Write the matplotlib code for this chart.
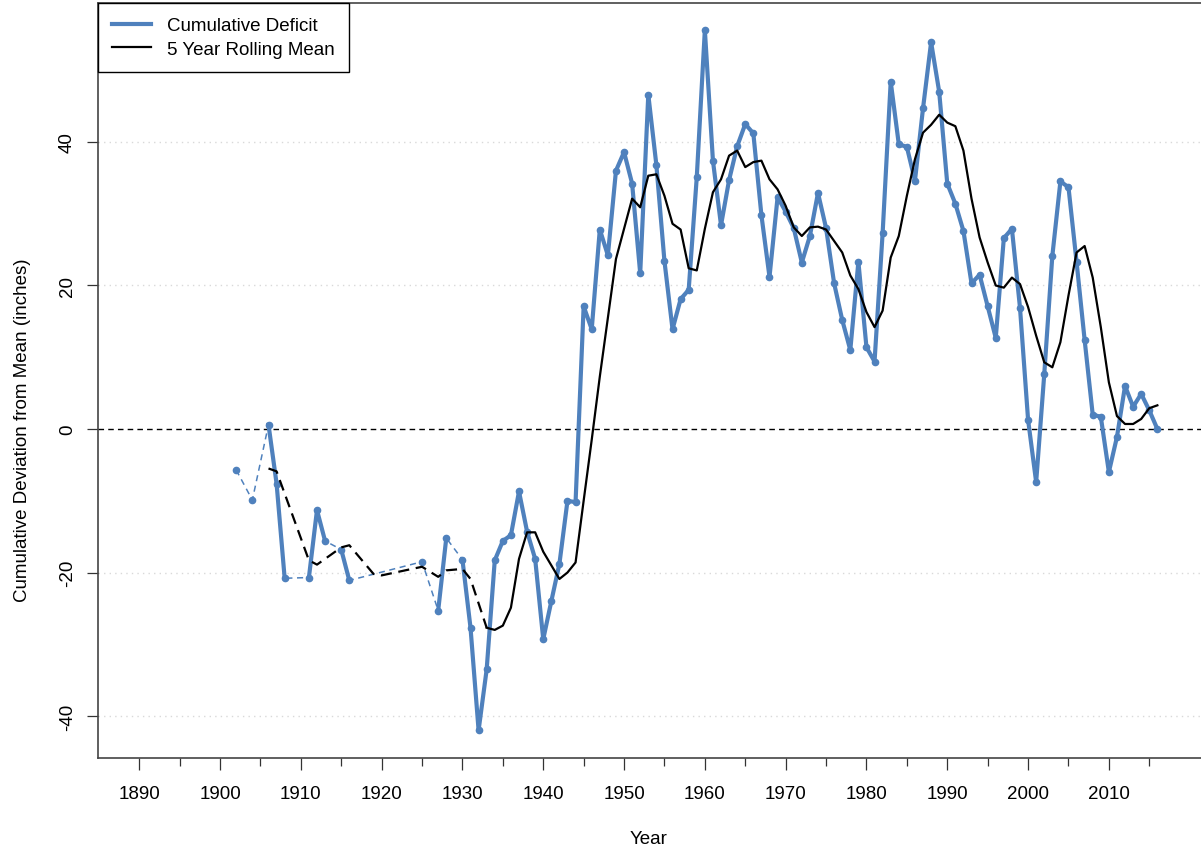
import numpy as np
import matplotlib.pyplot as plt
from matplotlib.lines import Line2D

plt.rcParams['font.family'] = ['Liberation Sans', 'DejaVu Sans']
plt.rcParams['font.size'] = 13.5
plt.rcParams['axes.unicode_minus'] = False

# cumulative deficit (inches), years with a record only
deficit_years = [1902, 1904, 1906, 1907, 1908, 1911, 1912, 1913, 1915, 1916,
                 1925, 1927, 1928, 1930, 1931, 1932, 1933, 1934, 1935, 1936,
                 1937, 1938, 1939, 1940, 1941, 1942, 1943, 1944, 1945, 1946,
                 1947, 1948, 1949, 1950, 1951, 1952, 1953, 1954, 1955, 1956,
                 1957, 1958, 1959, 1960, 1961, 1962, 1963, 1964, 1965, 1966,
                 1967, 1968, 1969, 1970, 1971, 1972, 1973, 1974, 1975, 1976,
                 1977, 1978, 1979, 1980, 1981, 1982, 1983, 1984, 1985, 1986,
                 1987, 1988, 1989, 1990, 1991, 1992, 1993, 1994, 1995, 1996,
                 1997, 1998, 1999, 2000, 2001, 2002, 2003, 2004, 2005, 2006,
                 2007, 2008, 2009, 2010, 2011, 2012, 2013, 2014, 2015, 2016]
deficit = [-5.7, -9.9, 0.6, -7.6, -20.8, -20.7, -11.3, -15.6, -16.8, -21.1,
           -18.5, -25.3, -15.2, -18.2, -27.7, -42.0, -33.5, -18.3, -15.6, -14.8,
           -8.7, -14.3, -18.1, -29.3, -24.0, -18.8, -10.0, -10.2, 17.1, 13.9,
           27.8, 24.2, 36.0, 38.6, 34.2, 21.7, 46.6, 36.8, 23.4, 13.9,
           18.1, 19.4, 35.1, 55.6, 37.4, 28.4, 34.7, 39.4, 42.5, 41.2,
           29.8, 21.2, 32.3, 30.3, 28.0, 23.2, 26.9, 32.9, 28.0, 20.3,
           15.2, 11.0, 23.3, 11.4, 9.4, 27.3, 48.4, 39.7, 39.3, 34.6,
           44.7, 53.9, 47.0, 34.2, 31.4, 27.6, 20.3, 21.5, 17.1, 12.7,
           26.6, 27.9, 16.9, 1.3, -7.4, 7.6, 24.1, 34.5, 33.7, 23.3,
           12.4, 2.0, 1.7, -6.0, -1.1, 6.0, 3.1, 4.9, 2.6, 0.0]

# 5 year rolling mean, patchy part (drawn dashed) then continuous part
roll_gap_years = [1906, 1907, 1911, 1912, 1915, 1916, 1919, 1920, 1925, 1927,
                  1928, 1930, 1931, 1933]
roll_gap = [-5.5, -5.9, -18.3, -18.9, -16.5, -16.2, -20.2, -20.4, -19.2, -20.6,
            -19.7, -19.5, -20.9, -27.7]
roll_years = list(range(1933, 2017))
roll = [-27.7, -28.0, -27.4, -24.9, -18.1, -14.4, -14.4, -17.1, -19.0, -20.9,
        -20.0, -18.6, -10.0, -1.5, 7.3, 15.5, 23.7, 27.9, 32.1, 30.9,
        35.3, 35.5, 32.5, 28.6, 27.8, 22.4, 22.1, 27.9, 33.0, 34.8,
        38.1, 38.8, 36.5, 37.2, 37.4, 34.8, 33.4, 31.1, 28.1, 26.9,
        28.1, 28.2, 27.8, 26.2, 24.6, 21.4, 19.5, 16.3, 14.2, 16.5,
        23.9, 26.9, 32.5, 37.6, 41.3, 42.4, 43.8, 42.7, 42.2, 38.8,
        32.1, 26.7, 23.2, 20.0, 19.7, 21.1, 20.2, 17.0, 13.0, 9.3,
        8.6, 12.1, 18.6, 24.6, 25.5, 21.1, 14.2, 6.5, 1.8, 0.7,
        0.7, 1.4, 2.9, 3.3]

blue = '#4f81bd'

# full yearly series with gaps so the thick line breaks on missing years
all_years = np.arange(deficit_years[0], deficit_years[-1] + 1)
full = np.full(all_years.shape, np.nan)
full[np.searchsorted(all_years, deficit_years)] = deficit

fig = plt.figure(figsize=(12.01, 8.54), dpi=100)
ax = fig.add_axes([98 / 1201, 1 - 759 / 854, 1103 / 1201, 755 / 854])

for yv in [-40, -20, 20, 40]:
    ax.axhline(yv, color='#d9d9d9', linestyle=(0, (1, 3)), linewidth=1.0, zorder=0)
ax.axhline(0, color='black', linestyle=(0, (4, 3)), linewidth=1.0, zorder=1)

# thin dashed link across missing years, thick line where years are consecutive
ax.plot(deficit_years, deficit, color=blue, linewidth=1.1,
        linestyle=(0, (4, 3)), zorder=2)
ax.plot(all_years, full, color=blue, linewidth=3.0, marker='o',
        markersize=4.5, zorder=3)

ax.plot(roll_gap_years, roll_gap, color='black', linewidth=1.6,
        linestyle=(0, (5, 3)), zorder=4)
ax.plot(roll_years, roll, color='black', linewidth=1.6, zorder=4)

ax.set_xlim(1884.9, 2021.4)
ax.set_ylim(-45.85, 59.37)

ax.set_xticks(range(1890, 2011, 10))
ax.set_xticks(range(1895, 2016, 10), minor=True)
ax.set_yticks([-40, -20, 0, 20, 40])
ax.tick_params(axis='x', which='major', length=8.5, width=0.9, pad=11,
               color='#333333')
ax.tick_params(axis='x', which='minor', length=5.5, width=0.9, color='#333333')
ax.tick_params(axis='y', length=8, width=0.9, pad=8, color='#333333')
for lab in ax.get_yticklabels():
    lab.set_rotation(90)
    lab.set_va('center')

for side in ['left', 'bottom', 'top']:
    ax.spines[side].set_color('#444444')
    ax.spines[side].set_linewidth(1.2)
ax.spines['right'].set_visible(False)

fig.text(23 / 1201, 1 - 430 / 854, 'Cumulative Deviation from Mean (inches)',
         rotation=90, ha='center', va='center')
fig.text(649 / 1201, 1 - 840 / 854, 'Year', ha='center', va='center')
# main title sits above the top edge, only its lower rim shows
fig.text(649 / 1201, 1 + 1.5 / 854, 'Cumulative Deviation from Mean of 34.71',
         ha='center', va='baseline', fontsize=15, fontweight='bold',
         color='#999999')

handles = [Line2D([], [], color=blue, linewidth=3.0),
           Line2D([], [], color='black', linewidth=1.6)]
leg = ax.legend(handles, ['Cumulative Deficit', '5 Year Rolling Mean'],
                loc='upper left', borderaxespad=0, fancybox=False,
                framealpha=1, edgecolor='black', handlelength=2.1,
                handletextpad=0.85, borderpad=0.75, labelspacing=0.35)
leg.get_frame().set_linewidth(1.0)
leg.set_zorder(10)

fig.savefig('out.png', dpi=100)
